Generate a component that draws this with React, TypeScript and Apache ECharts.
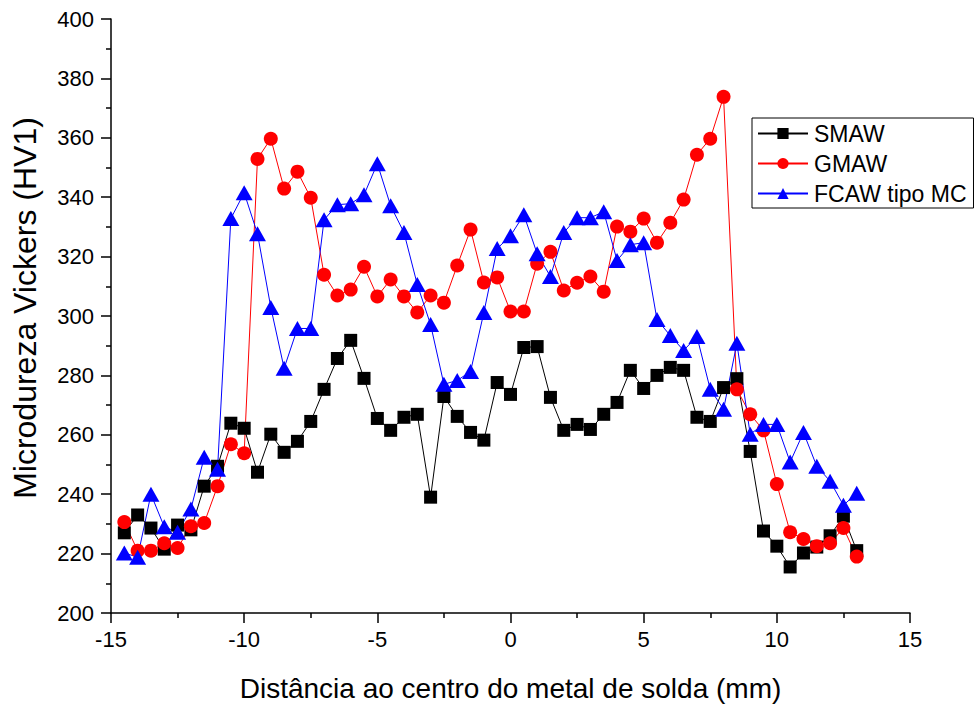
import React, { useEffect, useRef } from "react";
import * as echarts from "echarts";

const xPositions = [
  -14.5, -14, -13.5, -13, -12.5, -12, -11.5, -11, -10.5, -10, -9.5, -9, -8.5, -8, -7.5, -7, -6.5, -6, -5.5, -5,
  -4.5, -4, -3.5, -3, -2.5, -2, -1.5, -1, -0.5, 0, 0.5, 1, 1.5, 2, 2.5, 3, 3.5, 4, 4.5, 5,
  5.5, 6, 6.5, 7, 7.5, 8, 8.5, 9, 9.5, 10, 10.5, 11, 11.5, 12, 12.5, 13,
];

const smaw = [
  227, 233, 228.6, 221.5, 229.6, 228, 242.7, 249.4, 263.9, 262.2, 247.4, 260.2, 254.1, 257.8, 264.5, 275.3, 285.7, 291.8, 279, 265.5,
  261.5, 265.9, 266.9, 239, 272.9, 266.2, 260.8, 258.2, 277.6, 273.6, 289.4, 289.7, 272.6, 261.5, 263.5, 261.8, 266.9, 270.9, 281.7, 275.6,
  280, 282.7, 281.7, 265.9, 264.5, 275.9, 278.9, 254.4, 227.6, 222.5, 215.5, 220.2, 222.2, 226, 232.6, 221,
];

const gmaw = [
  230.6, 221, 221, 223.5, 221.9, 229.2, 230.3, 242.7, 256.8, 253.8, 352.9, 359.7, 342.9, 348.6, 339.8, 313.9, 306.9, 308.9, 316.6, 306.6,
  312.3, 306.6, 301.2, 306.9, 304.5, 317, 329.1, 311.3, 313, 301.5, 301.5, 317.6, 321.6, 308.6, 311.2, 313.3, 308.2, 330.1, 328.4, 332.8,
  324.7, 331.4, 339.2, 354.3, 359.7, 373.8, 275.3, 266.9, 261.5, 243.4, 227.2, 224.9, 222.5, 223.5, 228.6, 219,
];

const fcaw = [
  220.2, 218.8, 240, 229, 227.2, 235, 252.4, 248.4, 332.8, 341.5, 327.7, 302.9, 282.4, 295.8, 295.8, 332.4, 337.5, 337.8, 340.8, 351.3,
  337.1, 328.1, 310.6, 297.1, 277, 278.3, 281.3, 301.2, 322.7, 327, 334.1, 321, 313.3, 328.1, 333.1, 333.1, 335.1, 318.7, 324, 324.7,
  298.8, 293.4, 288.4, 293.1, 275.3, 268.6, 290.8, 260.2, 263.5, 263.5, 250.8, 260.8, 249.4, 244.4, 236.3, 240.3,
];

const seriesNames = ["SMAW", "GMAW", "FCAW tipo MC"];
const xTitle = "Distância ao centro do metal de solda (mm)";
const yTitle = "Microdureza Vickers (HV1)";

const FONT = "'Liberation Sans', Arial, Helvetica, sans-serif";

function pairs(ys: number[]) {
  return ys.map((y, i) => [xPositions[i], y]);
}

export default function App() {
  const ref = useRef<HTMLDivElement>(null);
  useEffect(() => {
    if (!ref.current) return;
    const chart = echarts.init(ref.current, undefined, { renderer: "svg" });
    const axisCommon = {
      axisLine: { show: true, onZero: false, lineStyle: { color: "#000", width: 1.5 } },
      axisTick: { show: true, inside: false, length: 10, lineStyle: { color: "#000", width: 1.5 } },
      minorTick: { show: true, splitNumber: 2, length: 5, lineStyle: { color: "#000", width: 1.5 } },
      splitLine: { show: false },
      minorSplitLine: { show: false },
      axisLabel: { color: "#000", fontSize: 22, fontFamily: FONT },
    };
    chart.setOption({
      animation: false,
      backgroundColor: "#fff",
      textStyle: { fontFamily: FONT },
      grid: { left: 111, right: 64, top: 19, bottom: 91, containLabel: false, outerBoundsMode: "none" },
      legend: {
        orient: "vertical",
        left: 752,
        top: 118,
        data: seriesNames,
        itemWidth: 50,
        itemHeight: 14,
        itemGap: 7,
        padding: [4, 7, 3, 5],
        borderColor: "#000",
        borderWidth: 1,
        backgroundColor: "#fff",
        textStyle: { color: "#000", fontSize: 23, fontFamily: FONT, padding: [0, 0, 0, 1] },
      },
      xAxis: {
        type: "value",
        min: -15,
        max: 15,
        interval: 5,
        name: xTitle,
        nameLocation: "middle",
        nameGap: 61,
        nameTextStyle: { color: "#000", fontSize: 28, fontFamily: FONT },
        ...axisCommon,
        axisLabel: { ...axisCommon.axisLabel, margin: 15 },
      },
      yAxis: {
        type: "value",
        min: 200,
        max: 400,
        interval: 20,
        name: yTitle,
        nameLocation: "middle",
        nameGap: 70,
        nameTextStyle: { color: "#000", fontSize: 32, fontFamily: FONT, padding: [0, 0, 0, 16] },
        ...axisCommon,
        axisLabel: { ...axisCommon.axisLabel, margin: 17 },
      },
      series: [
        {
          name: seriesNames[0],
          type: "line",
          data: pairs(smaw),
          symbol: "rect",
          symbolSize: 13,
          itemStyle: { color: "#000000" },
          lineStyle: { color: "#000000", width: 1 },
        },
        {
          name: seriesNames[1],
          type: "line",
          data: pairs(gmaw),
          symbol: "circle",
          symbolSize: 14,
          itemStyle: { color: "#ff0000" },
          lineStyle: { color: "#ff0000", width: 1 },
        },
        {
          name: seriesNames[2],
          type: "line",
          data: pairs(fcaw),
          symbol: "triangle",
          symbolSize: [17, 15],
          itemStyle: { color: "#0000ff" },
          lineStyle: { color: "#0000ff", width: 1 },
        },
      ],
    });
    return () => chart.dispose();
  }, []);
  return <div ref={ref} style={{ width: 974, height: 704, position: "absolute", left: 0, top: 0 }} />;
}
